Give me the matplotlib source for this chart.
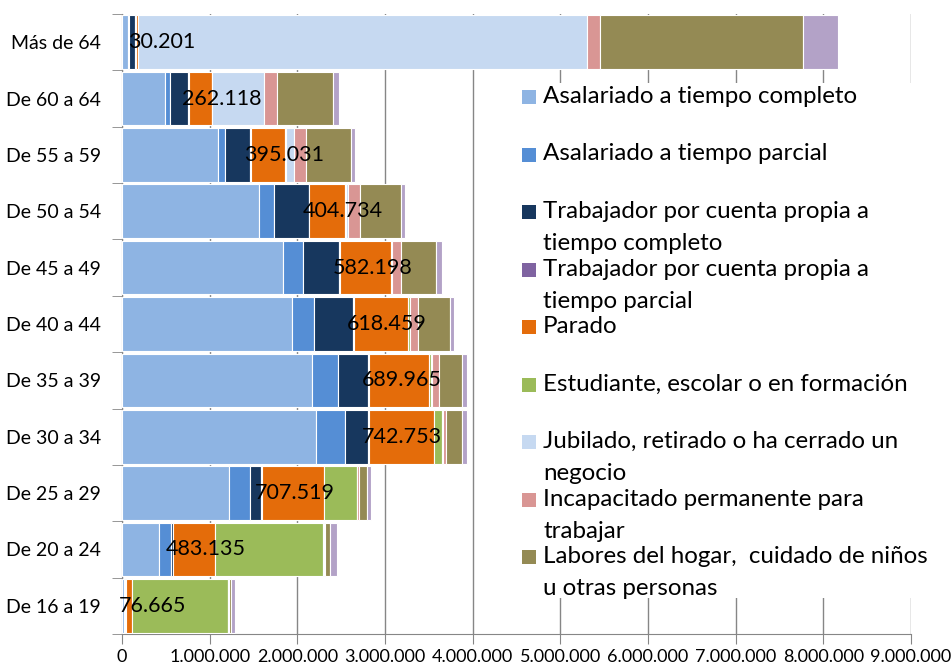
import numpy as np
import matplotlib
matplotlib.use('Agg')
import matplotlib.pyplot as plt
from matplotlib.patches import Rectangle
from matplotlib.ticker import FuncFormatter, MultipleLocator

plt.rcParams['font.family'] = ['Lato', 'DejaVu Sans']

# age groups, bottom to top
groups = ['De 16 a 19', 'De 20 a 24', 'De 25 a 29', 'De 30 a 34', 'De 35 a 39',
          'De 40 a 44', 'De 45 a 49', 'De 50 a 54', 'De 55 a 59', 'De 60 a 64',
          'Más de 64']

asal_completo = [23000, 425000, 1224000, 2209000, 2166000, 1938000, 1839000, 1566000, 1098000, 490000, 65000]
asal_parcial = [15000, 133000, 239000, 331000, 300000, 254000, 221000, 171000, 76000, 57000, 18000]
cp_completo = [2000, 19000, 125000, 269000, 342000, 445000, 414000, 392000, 289000, 209000, 68000]
cp_parcial = [1000, 3000, 5000, 8000, 9000, 10000, 10000, 8000, 6000, 8000, 4000]
parado = [76665, 483135, 707519, 742753, 689965, 618459, 582198, 404734, 395031, 262118, 30201]
estudiante = [1090000, 1235000, 380000, 88000, 20000, 15000, 10000, 10000, 3000, 1000, 1000]
jubilado = [2000, 5000, 5000, 10000, 5000, 5000, 8000, 25000, 96000, 593000, 5120000]
incapacitado = [10000, 15000, 15000, 35000, 80000, 90000, 99000, 140000, 132000, 145000, 145000]
hogar = [25000, 49000, 95000, 189000, 262000, 369000, 403000, 468000, 521000, 642000, 2320000]
otros = [45000, 91000, 42000, 54000, 57000, 46000, 62000, 42000, 42000, 68000, 396000]

series = [asal_completo, asal_parcial, cp_completo, cp_parcial, parado,
          estudiante, jubilado, incapacitado, hogar, otros]
labels = ['Asalariado a tiempo completo',
          'Asalariado a tiempo parcial',
          'Trabajador por cuenta propia a\ntiempo completo',
          'Trabajador por cuenta propia a\ntiempo parcial',
          'Parado',
          'Estudiante, escolar o en formación',
          'Jubilado, retirado o ha cerrado un\nnegocio',
          'Incapacitado permanente para\ntrabajar',
          'Labores del hogar,  cuidado de niños\nu otras personas']
colors = ['#8EB4E3', '#558ED5', '#17375E', '#7F63A1', '#E46C0A',
          '#9BBB59', '#C6D9F1', '#D99694', '#948A54', '#B3A2C7']

W, H = 951, 667
fig = plt.figure(figsize=(W / 100, H / 100), dpi=100)
ax = fig.add_axes([122 / W, 1 - 634 / H, 789 / W, 620 / H])

y = np.arange(len(groups))
left = np.zeros(len(groups))
parado_left = None
for i, (vals, c) in enumerate(zip(series, colors)):
    vals = np.array(vals, dtype=float)
    ax.barh(y, vals, left=left, height=0.95, color=c, edgecolor='white',
            linewidth=0.8, zorder=3)
    if i == 4:
        parado_left = left.copy()
    left = left + vals

for yi, x0, v in zip(y, parado_left, parado):
    ax.text(x0 - 80000, yi, f'{v:,}'.replace(',', '.'), ha='left', va='center',
            fontsize=15.5, color='black', zorder=5)

ax.set_xlim(0, 9000000)
ax.set_ylim(-0.5, len(groups) - 0.5)
ax.xaxis.set_major_locator(MultipleLocator(1000000))
ax.xaxis.set_major_formatter(FuncFormatter(lambda v, p: f'{int(v):,}'.replace(',', '.')))
ax.set_yticks(y)
ax.set_yticklabels(groups)
ax.set_yticks(np.arange(-0.5, len(groups)), minor=True)
ax.tick_params(axis='y', which='major', length=0, pad=15, labelsize=14)
ax.tick_params(axis='y', which='minor', length=7, color='#868686')
ax.tick_params(axis='x', length=7, color='#868686', labelsize=13, pad=4)

ax.grid(axis='x', color='#868686', linewidth=1, zorder=0)
ax.set_axisbelow(True)
for s in ['top', 'right']:
    ax.spines[s].set_visible(False)
for s in ['left', 'bottom']:
    ax.spines[s].set_color('#868686')

# white legend area
ax.add_patch(Rectangle((0.46, 0.058), 0.6, 0.831, transform=ax.transAxes,
                       facecolor='white', edgecolor='none', zorder=1, clip_on=False))

for i, (lab, c) in enumerate(zip(labels, colors[:9])):
    py = 97 + 57.5 * i
    fig.patches.append(Rectangle((522 / W, 1 - (py + 7) / H), 14 / W, 14 / H,
                                 transform=fig.transFigure, facecolor=c,
                                 edgecolor='none'))
    fig.text(543 / W, 1 - (py - 11) / H, lab, ha='left', va='top', fontsize=17.4,
             linespacing=1.65)

fig.savefig('out.png', dpi=100)
